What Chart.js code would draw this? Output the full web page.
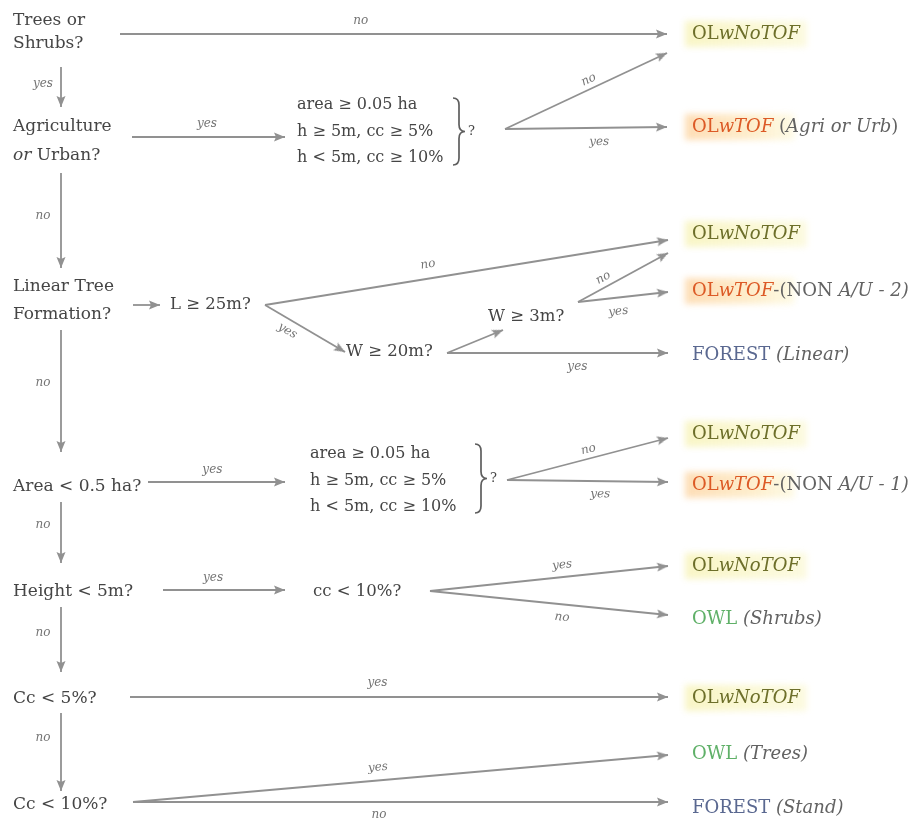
<!DOCTYPE html>
<html>
<head>
<meta charset="utf-8">
<script src="https://cdn.jsdelivr.net/npm/chart.js@4"></script>
<style>
  html, body { margin: 0; padding: 0; background: #fff; }
  #wrap { width: 912px; height: 818px; }
</style>
</head>
<body>
<div id="wrap"><canvas id="flow"></canvas></div>
<script>
// ---- decision questions on the left spine (*...* = italic) ----
const questions  = [["Trees or", "Shrubs?"], ["Agriculture", "*or* Urban?"], ["Linear Tree", "Formation?"],
                    ["Area < 0.5 ha?"], ["Height < 5m?"], ["Cc < 5%?"], ["Cc < 10%?"]];
const questionY  = [[21, 44], [127, 156], [287, 315], [487], [592], [699], [805]];
const questionX  = 13;

// ---- intermediate tests ----
const tests  = ["L ≥ 25m?", "W ≥ 20m?", "W ≥ 3m?", "cc < 10%?"];
const testX  = [170, 346, 488, 313];
const testY  = [305, 352, 317, 592];

// ---- threshold blocks with a brace and "?" ----
const thresholds = ["area ≥ 0.05 ha", "h ≥ 5m, cc ≥ 5%", "h < 5m, cc ≥ 10%"];
const blockX     = [297, 310];
const blockY     = [[105, 132, 158], [454, 481, 507]];
const braceX     = [453, 475];
const braceSpan  = [[98, 165], [444, 513]];

// ---- end classes (colour part, grey part) ----
const outcomes = [
  ["OL*wNoTOF*", ""], ["OL*wTOF*", " (*Agri or Urb*)"],
  ["OL*wNoTOF*", ""], ["OL*wTOF*", "-(NON *A/U - 2)*"], ["FOREST", " *(Linear)*"],
  ["OL*wNoTOF*", ""], ["OL*wTOF*", "-(NON *A/U - 1)*"],
  ["OL*wNoTOF*", ""], ["OWL", " *(Shrubs)*"],
  ["OL*wNoTOF*", ""],
  ["OWL", " *(Trees)*"], ["FOREST", " *(Stand)*"]
];
const outcomeKind = ["none", "tof", "none", "tof", "forest", "none", "tof", "none", "owl", "none", "owl", "forest"];
const outcomeY    = [34, 127, 234, 291, 355, 434, 485, 566, 619, 698, 754, 808];
const outcomeX    = 692;

// ---- arrows: x1, y1, x2 (tip), y2 (tip), label, label pos along, label side offset ----
const arrows = [
  [120, 34, 667, 34, "no", 0.44, -13],
  [61, 67, 61, 107, "yes", 0.43, 18],
  [132, 137, 285, 137, "yes", 0.49, -13],
  [505, 129, 667, 53, "no", 0.54, -9],
  [505, 129, 667, 127, "yes", 0.58, 14],
  [61, 173, 61, 268, "no", 0.45, 18],
  [133, 305, 160, 305, "", 0, 0],
  [265, 305, 668, 240, "no", 0.41, -14],
  [265, 305, 345, 352, "yes", 0.35, 11],
  [447, 353, 503, 330, "", 0, 0],
  [447, 353, 668, 353, "yes", 0.59, 14],
  [578, 302, 668, 253, "no", 0.33, -9],
  [578, 302, 668, 292, "yes", 0.43, 14],
  [61, 330, 61, 452, "no", 0.43, 18],
  [148, 482, 285, 482, "yes", 0.47, -12],
  [507, 480, 668, 438, "no", 0.52, -9],
  [507, 480, 668, 482, "yes", 0.58, 13],
  [61, 502, 61, 563, "no", 0.38, 18],
  [163, 590, 285, 590, "yes", 0.41, -12],
  [430, 591, 668, 566, "yes", 0.56, -12],
  [430, 591, 668, 615, "no", 0.56, 13],
  [61, 607, 61, 672, "no", 0.4, 18],
  [130, 697, 668, 697, "yes", 0.46, -14],
  [61, 713, 61, 791, "no", 0.32, 18],
  [133, 802, 668, 755, "yes", 0.46, -13],
  [133, 802, 668, 802, "no", 0.46, 13]
];

const LINE = "#919191";
const TEXT = "#454545";
const SERIF = '"DejaVu Serif"';
const kindColor = { none: "#6d6f2a", tof: "#dc5a26", owl: "#5fb068", forest: "#5a6890" };

// arrowhead sprite: tip sits at the sprite centre, pointing up
const head = document.createElement("canvas");
head.width = 10; head.height = 26;
(function () {
  const c = head.getContext("2d");
  c.fillStyle = LINE;
  c.beginPath();
  c.moveTo(5, 13); c.lineTo(9.5, 24); c.lineTo(5, 22); c.lineTo(0.5, 24);
  c.closePath(); c.fill();
})();

function rich(ctx, str, x, y, size, color, dry) {
  str.split("*").forEach((part, i) => {
    if (!part) return;
    ctx.font = (i % 2 ? "italic " : "") + size + "px " + SERIF;
    if (!dry) { ctx.fillStyle = color; ctx.fillText(part, x, y); }
    x += ctx.measureText(part).width;
  });
  return x;
}

const textLayer = {
  id: "textLayer",
  afterDatasetsDraw(chart) {
    const { ctx, scales: { x: sx, y: sy } } = chart;
    const X = v => sx.getPixelForValue(v), Y = v => sy.getPixelForValue(v);
    ctx.save();
    ctx.textBaseline = "middle";
    ctx.textAlign = "left";

    questions.forEach((lines, i) => lines.forEach((ln, j) =>
      rich(ctx, ln, X(questionX), Y(questionY[i][j]), 17, TEXT)));

    tests.forEach((t, i) => rich(ctx, t, X(testX[i]), Y(testY[i]), 16.5, TEXT));

    blockX.forEach((bx, b) => {
      thresholds.forEach((t, j) => rich(ctx, t, X(bx), Y(blockY[b][j]), 16, TEXT));
      // brace
      const x0 = X(braceX[b]), y1 = Y(braceSpan[b][0]), y2 = Y(braceSpan[b][1]);
      const ym = (y1 + y2) / 2, w = 12, hx = x0 + w / 2;
      ctx.strokeStyle = "#5e5e5e"; ctx.lineWidth = 1.7;
      ctx.beginPath();
      ctx.moveTo(x0, y1);
      ctx.quadraticCurveTo(hx, y1, hx, y1 + 7);
      ctx.lineTo(hx, ym - 7);
      ctx.quadraticCurveTo(hx, ym, x0 + w, ym);
      ctx.quadraticCurveTo(hx, ym, hx, ym + 7);
      ctx.lineTo(hx, y2 - 7);
      ctx.quadraticCurveTo(hx, y2, x0, y2);
      ctx.stroke();
      rich(ctx, "?", x0 + w + 3, ym, 13, TEXT);
    });

    // yes / no labels on arrows
    arrows.forEach(([x1, y1, x2, y2, lab, t, side]) => {
      if (!lab) return;
      const p1 = [X(x1), Y(y1)], p2 = [X(x2), Y(y2)];
      const dx = p2[0] - p1[0], dy = p2[1] - p1[1], len = Math.hypot(dx, dy);
      const nx = -dy / len, ny = dx / len;
      const lx = p1[0] + t * dx + nx * side, ly = p1[1] + t * dy + ny * side;
      ctx.save();
      ctx.translate(lx, ly);
      if (Math.abs(dx) > Math.abs(dy)) ctx.rotate(Math.atan2(dy, dx));
      ctx.textAlign = "center";
      ctx.font = "italic 12px " + SERIF;
      ctx.fillStyle = "#747474";
      ctx.fillText(lab, 0, 0);
      ctx.restore();
    });

    // end classes
    outcomes.forEach(([main, rest], i) => {
      const kind = outcomeKind[i];
      const x = X(outcomeX), y = Y(outcomeY[i]);
      const mainEnd = rich(ctx, main, x, y, 18, "", true);
      if (kind === "none" || kind === "tof") {
        ctx.save();
        ctx.filter = "blur(3px)";
        const g = ctx.createLinearGradient(x, 0, mainEnd + 24, 0);
        if (kind === "tof") {
          g.addColorStop(0, "rgba(253,212,160,0.75)");
          g.addColorStop(0.6, "rgba(253,232,185,0.7)");
          g.addColorStop(1, "rgba(252,246,205,0.5)");
        } else {
          g.addColorStop(0, "rgba(248,244,190,0.85)");
          g.addColorStop(1, "rgba(251,249,215,0.7)");
        }
        ctx.fillStyle = g;
        ctx.fillRect(x - 7, y - 13, mainEnd - x + (kind === "tof" ? 28 : 14), 26);
        ctx.restore();
      }
      const end = rich(ctx, main, x, y, 18, kindColor[kind]);
      if (rest) rich(ctx, rest, end, y, 18, "#626262");
    });
    ctx.restore();
  }
};

const datasets = arrows.map(([x1, y1, x2, y2]) => ({
  data: [{ x: x1, y: y1 }, { x: x2, y: y2 }],
  showLine: true,
  borderColor: LINE,
  borderWidth: 1.8,
  pointRadius: [0, 6],
  pointStyle: head,
  rotation: [0, Math.atan2(x2 - x1, -(y2 - y1)) * 180 / Math.PI],
  clip: false
}));

new Chart(document.getElementById("flow"), {
  type: "scatter",
  data: { datasets },
  options: {
    responsive: true,
    maintainAspectRatio: false,
    animation: false,
    events: [],
    layout: { padding: 0, autoPadding: false },
    plugins: { legend: { display: false }, tooltip: { enabled: false } },
    scales: {
      x: { type: "linear", min: 0, max: 912, display: false },
      y: { type: "linear", min: 0, max: 818, reverse: true, display: false }
    }
  },
  plugins: [textLayer]
});
</script>
</body>
</html>
